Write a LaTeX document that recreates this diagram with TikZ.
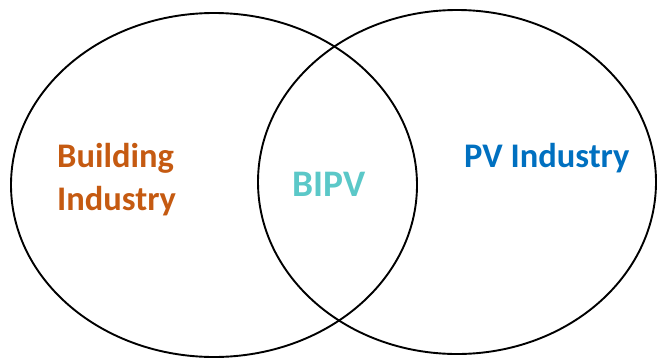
\documentclass[tikz,border=0pt]{standalone}
\usepackage{fontspec}
\setmainfont{Carlito}
\definecolor{buildc}{HTML}{C55A11}
\definecolor{bipvc}{HTML}{5BC8C8}
\definecolor{pvc}{HTML}{0070C0}
\begin{document}
\begin{tikzpicture}[x=1pt,y=-1pt,
  ring/.style={draw=black,line width=1.9pt},
  lbl/.style={inner sep=0pt,font=\bfseries\fontsize{34.5}{43}\selectfont}]
\useasboundingbox (0,0) rectangle (658,359);
\draw[ring] (214,185) ellipse [x radius=203, y radius=172];
\draw[ring] (457,182) ellipse [x radius=199, y radius=172];
\node[lbl,text=buildc,align=left,anchor=base west] (build) at (57,210) {Building\\Industry};
\node[lbl,text=bipvc,anchor=base west,font=\bfseries\fontsize{37.5}{42}\selectfont] (bipv) at (292,196) {BIPV};
\node[lbl,text=pvc,anchor=base west] (pv) at (464,167) {PV Industry};
\end{tikzpicture}
\end{document}
